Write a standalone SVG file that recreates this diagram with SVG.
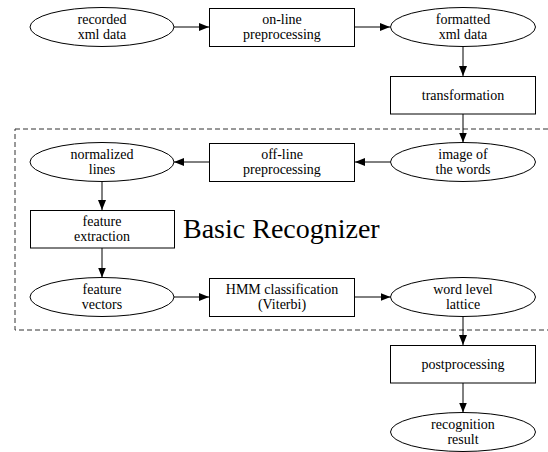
<svg xmlns="http://www.w3.org/2000/svg" width="548" height="452" viewBox="0 0 548 452">
<style>
  .n { fill: #fff; stroke: #000; stroke-width: 1; }
  .t { font-family: 'Liberation Serif', 'Times New Roman', serif; font-size: 14px; fill: #000; text-anchor: middle; }
  .big { font-family: 'Liberation Serif', 'Times New Roman', serif; font-size: 28px; fill: #000; }
  .c { stroke: #000; stroke-width: 1; fill: none; marker-end: url(#ah); }
  .frame { fill: none; stroke: #333; stroke-width: 1; stroke-dasharray: 5,3; }
</style>
<defs>
  <marker id="ah" markerWidth="10" markerHeight="8" refX="10" refY="4" orient="auto" markerUnits="userSpaceOnUse">
    <path d="M0,0 L10,4 L0,8 Z" fill="#000"/>
  </marker>
</defs>
<rect width="548" height="452" fill="#fff"/>
<rect class="frame" x="15" y="129" width="560" height="201"/>
<text class="big" x="183" y="238">Basic Recognizer</text>

<g id="connectors">
  <line class="c" x1="174" y1="27" x2="209" y2="27"/>
  <line class="c" x1="355" y1="27" x2="390" y2="27"/>
  <line class="c" x1="463" y1="46.5" x2="463" y2="76"/>
  <line class="c" x1="463" y1="114" x2="463" y2="142.5"/>
  <line class="c" x1="390.5" y1="162" x2="355" y2="162"/>
  <line class="c" x1="209" y1="162" x2="174" y2="162"/>
  <line class="c" x1="102" y1="181.5" x2="102" y2="210"/>
  <line class="c" x1="102" y1="248" x2="102" y2="277.5"/>
  <line class="c" x1="174" y1="297" x2="209" y2="297"/>
  <line class="c" x1="355" y1="297" x2="390.5" y2="297"/>
  <line class="c" x1="463" y1="316.5" x2="463" y2="345"/>
  <line class="c" x1="463" y1="383" x2="463" y2="412.5"/>
</g>

<g id="recorded">
  <ellipse class="n" cx="102" cy="27" rx="72" ry="19.5"/>
  <text class="t" x="102" y="24">recorded</text>
  <text class="t" x="102" y="39">xml data</text>
</g>
<g id="online">
  <rect class="n" x="209.5" y="8.5" width="145" height="38"/>
  <text class="t" x="282" y="24">on-line</text>
  <text class="t" x="282" y="39">preprocessing</text>
</g>
<g id="formatted">
  <ellipse class="n" cx="463" cy="27" rx="72.5" ry="19.5"/>
  <text class="t" x="463" y="24">formatted</text>
  <text class="t" x="463" y="39">xml data</text>
</g>
<g id="transformation">
  <rect class="n" x="390.5" y="76.5" width="145" height="37.5"/>
  <text class="t" x="463" y="100">transformation</text>
</g>
<g id="image">
  <ellipse class="n" cx="463" cy="162" rx="72.5" ry="19.5"/>
  <text class="t" x="463" y="159">image of</text>
  <text class="t" x="463" y="174">the words</text>
</g>
<g id="offline">
  <rect class="n" x="209.5" y="143.5" width="145" height="38"/>
  <text class="t" x="282" y="159">off-line</text>
  <text class="t" x="282" y="174">preprocessing</text>
</g>
<g id="normalized">
  <ellipse class="n" cx="102" cy="162" rx="72" ry="19.5"/>
  <text class="t" x="102" y="159">normalized</text>
  <text class="t" x="102" y="174">lines</text>
</g>
<g id="featureextraction">
  <rect class="n" x="30.5" y="210.5" width="144" height="37.5"/>
  <text class="t" x="102" y="226">feature</text>
  <text class="t" x="102" y="241">extraction</text>
</g>
<g id="featurevectors">
  <ellipse class="n" cx="102" cy="297" rx="72" ry="19.5"/>
  <text class="t" x="102" y="294">feature</text>
  <text class="t" x="102" y="309">vectors</text>
</g>
<g id="hmm">
  <rect class="n" x="209.5" y="278.5" width="145" height="38"/>
  <text class="t" x="282" y="294">HMM classification</text>
  <text class="t" x="282" y="309">(Viterbi)</text>
</g>
<g id="wordlattice">
  <ellipse class="n" cx="463" cy="297" rx="72.5" ry="19.5"/>
  <text class="t" x="463" y="294">word level</text>
  <text class="t" x="463" y="309">lattice</text>
</g>
<g id="postprocessing">
  <rect class="n" x="390.5" y="345.5" width="145" height="37.5"/>
  <text class="t" x="463" y="369">postprocessing</text>
</g>
<g id="recognition">
  <ellipse class="n" cx="463" cy="432" rx="72.5" ry="19.5"/>
  <text class="t" x="463" y="429">recognition</text>
  <text class="t" x="463" y="444">result</text>
</g>
</svg>
